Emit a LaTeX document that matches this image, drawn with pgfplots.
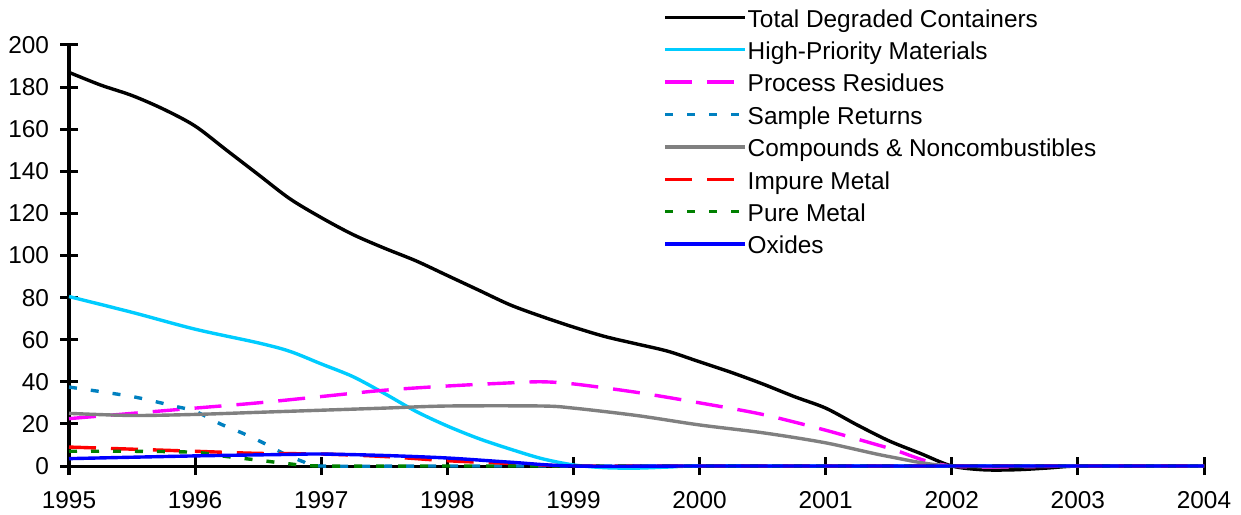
\documentclass[border=0pt]{standalone}
\usepackage{fontspec}
\setmainfont{Liberation Sans}
\usepackage{pgfplots}
\pgfplotsset{compat=1.18}
\definecolor{cSky}{RGB}{0,204,255}
\definecolor{cMag}{RGB}{255,0,255}
\definecolor{cSamp}{RGB}{0,128,192}
\definecolor{cGray}{RGB}{128,128,128}
\definecolor{cRed}{RGB}{255,0,0}
\definecolor{cGreen}{RGB}{0,128,0}
\definecolor{cBlue}{RGB}{0,0,255}
\begin{document}
\begin{tikzpicture}
\begin{axis}[name=ax, scale only axis, width=567.5pt, height=210.5pt,
  xmin=1995, xmax=2004, ymin=0, ymax=200,
  axis lines=left, axis line style={-, line width=1.5pt},
  xtick={1995,1996,...,2004}, ytick={0,20,...,200},
  tick align=center, major tick length=9pt,
  tick style={line width=1.5pt, black},
  /pgf/number format/1000 sep={},
  /pgf/number format/assume math mode=true,
  tick label style={font=\fontsize{12.2}{14}\selectfont},
  yticklabel style={xshift=-2pt},
  xticklabel style={yshift=-4.5pt},
  clip=false,
  every axis plot/.append style={line width=1.7pt, smooth},
  legend image code/.code={\draw[#1] (0pt,1.9pt) -- (40pt,1.9pt);},
  legend cell align=left,
  legend style={at={(0.5233,1.086)}, anchor=north west, draw=none, fill=none,
    inner sep=0pt, font=\fontsize{12.2}{14}\selectfont, row sep=4.2pt, column sep=0.5pt,
    nodes={inner sep=0pt, text height=9pt, text depth=3pt}},
]
\addplot[black] coordinates {(1995,187) (1995.25,181) (1995.5,176) (1995.75,169.5) (1996,161.5) (1996.25,150) (1996.5,138.5) (1996.75,127) (1997,118) (1997.25,110) (1997.5,103.5) (1997.75,97.5) (1998,90.5) (1998.25,83.5) (1998.5,76.5) (1998.75,71) (1999,66) (1999.25,61.5) (1999.5,58) (1999.75,54.5) (2000,49.5) (2000.25,44.5) (2000.5,39) (2000.75,33) (2001,27.5) (2001.25,19.5) (2001.5,12) (2001.75,6) (2002,0) (2002.25,-1.8) (2002.5,-1.8) (2002.75,-1) (2003,0) (2003.5,0) (2004,0)};
\addlegendentry{Total Degraded Containers}
\addplot[cSky] coordinates {(1995,80.5) (1995.5,73) (1996,65) (1996.5,58.5) (1996.75,54.5) (1997,48.5) (1997.25,42.5) (1997.5,34.5) (1997.75,26) (1998,19) (1998.25,13) (1998.5,8) (1998.75,3.5) (1999,0.5) (1999.25,-0.8) (1999.5,-1) (1999.75,-0.5) (2000,0) (2001,0) (2002,0) (2003,0) (2004,0)};
\addlegendentry{High-Priority Materials}
\addplot[cMag, dash pattern=on 13.5pt off 7.5pt] coordinates {(1995,22.5) (1995.5,25) (1996,27.5) (1996.5,30) (1997,33) (1997.5,36) (1998,38) (1998.5,39.5) (1998.75,40) (1999,39) (1999.5,35) (2000,30) (2000.5,24.5) (2001,17) (2001.5,8.5) (2002,0) (2003,0) (2004,0)};
\addlegendentry{Process Residues}
\addplot[cSamp, dash pattern=on 4pt off 7pt] coordinates {(1995,37.5) (1995.5,33) (1995.83,28.5) (1996,26) (1996.2,20) (1996.38,15.5) (1996.54,11) (1996.7,6) (1996.86,2) (1997,0) (1998,0) (1999,0) (2000,0) (2001,0) (2002,0) (2003,0) (2004,0)};
\addlegendentry{Sample Returns}
\addplot[cGray] coordinates {(1995,25) (1995.5,24) (1996,24.5) (1996.5,25.5) (1997,26.5) (1997.5,27.5) (1998,28.5) (1998.75,28.5) (1999,27.5) (1999.5,24) (2000,19.5) (2000.5,15.8) (2001,11) (2001.5,4.5) (2002,0) (2003,0) (2004,0)};
\addlegendentry{Compounds \& Noncombustibles}
\addplot[cRed, dash pattern=on 13.5pt off 7.5pt] coordinates {(1995,9) (1995.5,8) (1996,7) (1996.5,6) (1997,5.7) (1997.5,4.5) (1998,2.5) (1998.5,1.2) (1999,0) (2000,0) (2001,0) (2002,0) (2003,0) (2004,0)};
\addlegendentry{Impure Metal}
\addplot[cGreen, dash pattern=on 4pt off 7pt] coordinates {(1995,7) (1995.5,7) (1996,6.5) (1996.25,4.5) (1996.5,2.8) (1996.75,1) (1997,0) (1998,0) (1999,0) (2000,0) (2001,0) (2002,0) (2003,0) (2004,0)};
\addlegendentry{Pure Metal}
\addplot[cBlue] coordinates {(1995,3.5) (1996,4.8) (1996.75,5.5) (1997,5.7) (1997.5,5) (1998,3.8) (1998.5,1.8) (1999,0) (2000,0) (2001,0) (2002,0) (2003,0) (2004,0)};
\addlegendentry{Oxides}
\end{axis}
\pgfresetboundingbox
\path[use as bounding box] ([xshift=-34.5pt,yshift=-24pt]ax.south west) rectangle ++(620.5pt,257pt);
\end{tikzpicture}
\end{document}
